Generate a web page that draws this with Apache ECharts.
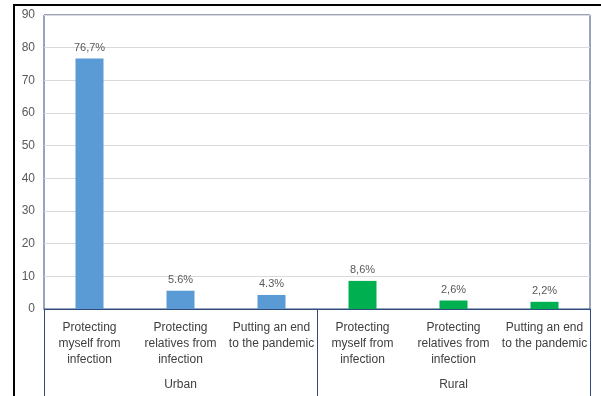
<!DOCTYPE html>
<html>
<head>
<meta charset="utf-8">
<script src="https://cdn.jsdelivr.net/npm/echarts@6/dist/echarts.min.js"></script>
<style>
  body { margin: 0; background: #fff; }
  #wrap { position: relative; width: 601px; height: 396px; overflow: hidden; }
  #frame { position: absolute; left: 13px; top: 4px; width: 600px; height: 400px;
           border-top: 2px solid #000; border-left: 2px solid #000; box-sizing: border-box; }
  #main { position: absolute; left: 0; top: 0; width: 601px; height: 396px; }
</style>
</head>
<body>
<div id="wrap">
  <div id="frame"></div>
  <div id="main"></div>
</div>
<script>
// categories (within each group) and the groups
var categories = ['Protecting\nmyself from\ninfection', 'Protecting\nrelatives from\ninfection', 'Putting an end\nto the pandemic',
                  'Protecting\nmyself from\ninfection', 'Protecting\nrelatives from\ninfection', 'Putting an end\nto the pandemic'];
var groups = ['Urban', 'Rural'];
var values = [76.7, 5.6, 4.3, 8.6, 2.6, 2.2];
var valueLabels = ['76,7%', '5.6%', '4.3%', '8,6%', '2,6%', '2,2%'];
var barColors = ['#5b9bd5', '#5b9bd5', '#5b9bd5', '#00b050', '#00b050', '#00b050'];

var font = 'Liberation Sans';
var myChart = echarts.init(document.getElementById('main'));

var data = [];
for (var i = 0; i < values.length; i++) {
    data.push({
        value: values[i],
        itemStyle: { color: barColors[i] },
        label: { formatter: valueLabels[i] }
    });
}

var option = {
    animation: false,
    grid: {
        left: 44, top: 15, right: 11, bottom: 87,
        show: true, borderColor: '#2f4b7c', borderWidth: 1
    },
    xAxis: [
        {
            type: 'category',
            data: categories,
            position: 'bottom',
            axisLine: { show: true, lineStyle: { color: '#2f4b7c', width: 1 } },
            axisTick: { show: false },
            axisLabel: {
                interval: 0, margin: 11, color: '#404040',
                fontFamily: font, fontSize: 12, lineHeight: 16
            }
        },
        {
            type: 'category',
            data: groups,
            position: 'bottom',
            axisLine: { show: false },
            axisTick: { show: true, length: 90, inside: false, lineStyle: { color: '#2f4b7c' } },
            axisLabel: {
                interval: 0, margin: 70, color: '#404040',
                fontFamily: font, fontSize: 12
            }
        }
    ],
    yAxis: {
        type: 'value',
        min: 0, max: 90, interval: 10,
        axisLine: { show: false },
        axisTick: { show: false },
        splitLine: { lineStyle: { color: '#d9d9d9' } },
        axisLabel: { margin: 9, color: '#595959', fontFamily: font, fontSize: 12 }
    },
    series: [{
        type: 'bar',
        xAxisIndex: 0,
        barWidth: 28,
        data: data,
        label: {
            show: true, position: 'top', distance: 5,
            color: '#595959', fontFamily: font, fontSize: 11
        }
    }]
};

myChart.setOption(option, true);
</script>
</body>
</html>
